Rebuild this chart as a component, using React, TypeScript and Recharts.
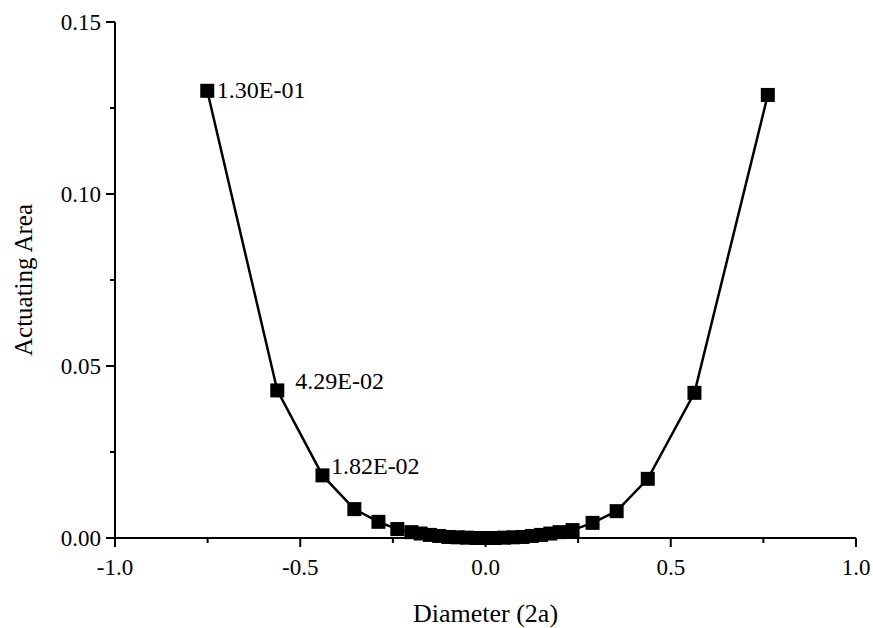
import React from "react";
import { LineChart, Line, XAxis, YAxis, LabelList } from "recharts";

// ---- data ----
const diameters = [
  -0.751, -0.562, -0.44, -0.354, -0.289, -0.238, -0.2, -0.175, -0.15, -0.125, -0.1, -0.075, -0.05, -0.025, 0,
  0.025, 0.05, 0.075, 0.1, 0.125, 0.15, 0.175, 0.2, 0.235, 0.289, 0.354, 0.438, 0.564, 0.762,
];
const areas = [
  0.13, 0.0429, 0.0182, 0.0084, 0.0047, 0.0026, 0.0017, 0.0013, 0.0009, 0.0006, 0.0003, 0.0002, 0.0001, 0, 0,
  0, 0.0001, 0.0002, 0.0003, 0.0006, 0.0009, 0.0013, 0.0017, 0.0023, 0.0044, 0.0078, 0.0172, 0.0422, 0.1288,
];
const noteTexts = ["1.30E-01", "4.29E-02", "1.82E-02"];
const noteIndices = [0, 1, 2];
const xTicks = [-1, -0.75, -0.5, -0.25, 0, 0.25, 0.5, 0.75, 1];
const yTicks = [0, 0.025, 0.05, 0.075, 0.1, 0.125, 0.15];
const xMajor = [-1, -0.5, 0, 0.5, 1];
const yMajor = [0, 0.05, 0.1, 0.15];

const data = diameters.map((d, i) => {
  const k = noteIndices.indexOf(i);
  return { x: d, y: areas[i], note: k >= 0 ? noteTexts[k] : "" };
});

// ---- styles ----
const FONT = "Liberation Serif";
const textStyle = (size: number): React.CSSProperties => ({ fontFamily: FONT, fontSize: size, fill: "#000" });
const noteOffsets = [
  { dx: 9.5, dy: -0.5 },
  { dx: 18, dy: -9.5 },
  { dx: 8.5, dy: -9.5 },
];

const isMajor = (v: number, majors: number[]) => majors.some((m) => Math.abs(m - v) < 1e-9);

const XTick = (props: any) => {
  const { x, y, payload } = props;
  const v = payload.value as number;
  const major = isMajor(v, xMajor);
  return (
    <g>
      <line x1={x} y1={y} x2={x} y2={y + (major ? 9 : 5)} stroke="#000" strokeWidth={2} />
      {major && (
        <text x={x} y={y + 29} textAnchor="middle" dominantBaseline="central" style={textStyle(23)}>
          {v.toFixed(1)}
        </text>
      )}
    </g>
  );
};

const YTick = (props: any) => {
  const { x, y, payload } = props;
  const v = payload.value as number;
  const major = isMajor(v, yMajor);
  return (
    <g>
      <line x1={x} y1={y} x2={x - (major ? 9 : 5)} y2={y} stroke="#000" strokeWidth={2} />
      {major && (
        <text x={x - 14} y={y} textAnchor="end" dominantBaseline="central" style={textStyle(23)}>
          {v.toFixed(2)}
        </text>
      )}
    </g>
  );
};

const SquareDot = (props: any) => {
  const { cx, cy, index } = props;
  if (cx == null || cy == null) return <g key={`d${index}`} />;
  return <rect key={`d${index}`} x={cx - 7} y={cy - 7} width={14} height={14} fill="#000" />;
};

const NoteLabel = (props: any) => {
  const { x, y, value, index } = props;
  if (!value) return null;
  const k = noteIndices.indexOf(index);
  const off = noteOffsets[k >= 0 ? k : 0];
  return (
    <text x={x + off.dx} y={y + off.dy} textAnchor="start" dominantBaseline="central" style={textStyle(24)}>
      {value}
    </text>
  );
};

const XTitle = (props: any) => {
  const vb = props.viewBox || {};
  return (
    <text x={vb.x + vb.width / 2} y={vb.y + 84} textAnchor="middle" style={textStyle(26)}>
      Diameter (2a)
    </text>
  );
};

const YTitle = (props: any) => {
  const vb = props.viewBox || {};
  const cx = 24;
  const cy = vb.y + vb.height / 2;
  return (
    <text x={cx} y={cy} transform={`rotate(-90, ${cx}, ${cy})`} textAnchor="middle" style={textStyle(25)}>
      Actuating Area
    </text>
  );
};

export default function App() {
  return (
    <div style={{ position: "absolute", left: 8, top: 8, width: 865, height: 620, background: "#fff" }}>
      <LineChart width={865} height={620} data={data} margin={{ top: 14, right: 17, bottom: 0, left: 0 }}>
        <XAxis
          dataKey="x"
          type="number"
          domain={[-1, 1]}
          ticks={xTicks}
          interval={0}
          tickSize={0}
          tickMargin={0}
          tickLine={false}
          tick={<XTick />}
          height={90}
          axisLine={{ stroke: "#000", strokeWidth: 2 }}
          allowDataOverflow
          label={{ content: <XTitle /> }}
        />
        <YAxis
          type="number"
          domain={[0, 0.15]}
          ticks={yTicks}
          interval={0}
          tickSize={0}
          tickMargin={0}
          tickLine={false}
          tick={<YTick />}
          width={107}
          axisLine={{ stroke: "#000", strokeWidth: 2 }}
          label={{ content: <YTitle /> }}
        />
        <XAxis
          xAxisId="top"
          orientation="top"
          type="number"
          domain={[-1, 1]}
          tick={false}
          tickLine={false}
          height={0}
          axisLine={{ stroke: "#000", strokeWidth: 2 }}
        />
        <YAxis
          yAxisId="right"
          orientation="right"
          type="number"
          domain={[0, 0.15]}
          tick={false}
          tickLine={false}
          width={0}
          axisLine={{ stroke: "#000", strokeWidth: 2 }}
        />
        <Line
          type="linear"
          dataKey="y"
          stroke="#000"
          strokeWidth={2.5}
          dot={SquareDot}
          activeDot={false}
          isAnimationActive={false}
        >
          <LabelList dataKey="note" content={NoteLabel} />
        </Line>
      </LineChart>
    </div>
  );
}
